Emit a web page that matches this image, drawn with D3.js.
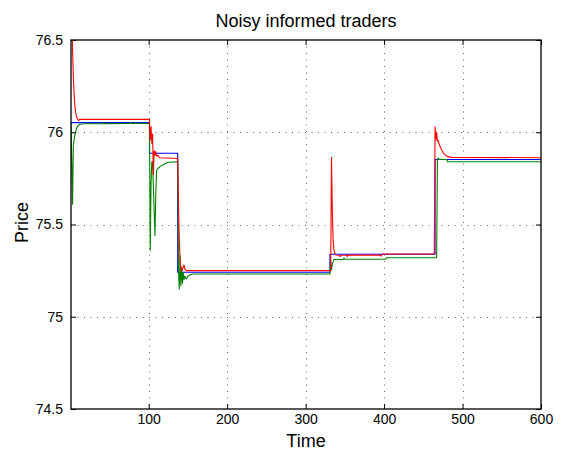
<!DOCTYPE html>
<html>
<head>
<meta charset="utf-8">
<script src="https://cdn.jsdelivr.net/npm/d3@7"></script>
<style>
  html, body { margin: 0; padding: 0; background: #fff; }
  text { font-family: "Liberation Sans", Arial, Helvetica, sans-serif; fill: #000; }
</style>
</head>
<body>
<div id="chart"></div>
<script>
// Price paths of three traders over 600 time steps (knots: time, price)
const blueT = [1, 101, 101, 137, 137, 331, 331, 465, 465, 600];
const blueV = [76.052, 76.052, 75.886, 75.886, 75.241, 75.241, 75.339, 75.339, 75.852, 75.852];

const redT = [1, 2, 3, 4, 5, 6, 7, 8, 9, 10, 11, 12,
  101, 102, 103, 104, 105, 106, 107, 108, 109, 110, 112, 114,
  137, 138, 139, 140, 141, 142, 144, 145, 146, 148,
  332, 333, 334, 335, 336, 337, 339, 343, 344, 345, 352, 353, 354, 395, 396, 398,
  464, 465, 466, 467, 468, 469, 470, 472, 474, 476, 478, 481, 486, 600];
const redV = [77.0, 76.7, 76.45, 76.3, 76.2, 76.14, 76.105, 76.085, 76.074, 76.066, 76.064, 76.07,
  76.07, 75.96, 76.03, 75.94, 75.99, 75.77, 75.9, 75.875, 75.895, 75.87, 75.875, 75.862,
  75.858, 75.6, 75.42, 75.31, 75.26, 75.245, 75.27, 75.28, 75.258, 75.25,
  75.25, 75.864, 75.58, 75.42, 75.365, 75.345, 75.335, 75.333, 75.326, 75.333, 75.333, 75.327, 75.334, 75.334, 75.328, 75.34,
  75.34, 76.03, 75.96, 76.0, 75.95, 75.955, 75.94, 75.915, 75.9, 75.885, 75.877, 75.868, 75.864, 75.862];

const greenT = [1, 3, 4, 5, 6, 7, 8, 9, 11, 14, 19, 20, 21, 42, 43, 44, 76, 77, 78,
  101, 102, 103, 104, 105, 108, 109, 110, 112, 115, 120, 125,
  137, 138, 139, 140, 141, 142, 143, 144, 145, 146, 148, 150, 153, 156,
  331, 332, 333, 334, 336, 348, 349, 350, 402, 403,
  467, 468, 469, 470, 480, 481, 600];
const greenV = [76.05, 75.61, 75.93, 75.96, 75.985, 76.005, 76.02, 76.03, 76.04, 76.045, 76.046, 76.051, 76.046, 76.047, 76.052, 76.047, 76.048, 76.053, 76.048,
  76.048, 75.36, 75.72, 75.84, 75.84, 75.44, 75.65, 75.79, 75.805, 75.815, 75.828, 75.837,
  75.84, 75.25, 75.15, 75.33, 75.17, 75.27, 75.18, 75.24, 75.2, 75.22, 75.205, 75.22, 75.228, 75.232,
  75.232, 75.30, 75.255, 75.285, 75.31, 75.31, 75.318, 75.312, 75.312, 75.32,
  75.32, 75.855, 75.86, 75.852, 75.852, 75.84, 75.84];

const xTicks = [100, 200, 300, 400, 500, 600];
const yTicks = [74.5, 75, 75.5, 76, 76.5];
const xGrid = [100, 200, 300, 400, 500];
const yGrid = [75, 75.5, 76];

const W = 562, H = 455;
const m = { left: 71, right: 21, top: 40, bottom: 46 };
const pw = W - m.left - m.right, ph = H - m.top - m.bottom;

const svg = d3.select("#chart").append("svg")
  .attr("width", W).attr("height", H)
  .style("display", "block");
svg.append("rect").attr("width", W).attr("height", H).attr("fill", "#fff");

const x = d3.scaleLinear().domain([1, 600]).range([m.left, m.left + pw]);
const y = d3.scaleLinear().domain([74.5, 76.5]).range([m.top + ph, m.top]);

// dotted grid
const grid = svg.append("g").attr("stroke", "#555").attr("stroke-width", 0.9)
  .attr("stroke-dasharray", "1,5.5");
grid.selectAll(".gx").data(xGrid).join("line")
  .attr("x1", d => Math.round(x(d)) + 0.5).attr("x2", d => Math.round(x(d)) + 0.5)
  .attr("y1", m.top).attr("y2", m.top + ph);
grid.selectAll(".gy").data(yGrid).join("line")
  .attr("y1", d => Math.round(y(d)) + 0.5).attr("y2", d => Math.round(y(d)) + 0.5)
  .attr("x1", m.left).attr("x2", m.left + pw);

// series
svg.append("clipPath").attr("id", "plotclip").append("rect")
  .attr("x", m.left).attr("y", m.top).attr("width", pw).attr("height", ph);

const line = d3.line().x(d => x(d[0])).y(d => y(d[1]));
const series = [
  { t: blueT, v: blueV, color: "#0000ff" },
  { t: greenT, v: greenV, color: "#008000" },
  { t: redT, v: redV, color: "#ff0000" }
];
const plot = svg.append("g").attr("clip-path", "url(#plotclip)");
series.forEach(s => {
  plot.append("path")
    .datum(s.t.map((t, i) => [t, s.v[i]]))
    .attr("fill", "none")
    .attr("stroke", s.color)
    .attr("stroke-width", 1.1)
    .attr("stroke-linejoin", "round")
    .attr("d", line);
});

// axes: box with inward ticks on all four sides
const tickLen = 5;
const axisBottom = d3.axisBottom(x).tickValues(xTicks).tickSizeInner(-tickLen).tickSizeOuter(0).tickPadding(5).tickFormat(d3.format("d"));
const axisTop = d3.axisTop(x).tickValues(xTicks).tickSizeInner(-tickLen).tickSizeOuter(0).tickFormat("");
const axisLeft = d3.axisLeft(y).tickValues(yTicks).tickSizeInner(-tickLen).tickSizeOuter(0).tickPadding(8).tickFormat(d3.format("~g"));
const axisRight = d3.axisRight(y).tickValues(yTicks).tickSizeInner(-tickLen).tickSizeOuter(0).tickFormat("");

function styleAxis(g) {
  g.select(".domain").remove();
  g.selectAll(".tick line").attr("stroke", "#000").attr("stroke-width", 1);
  g.selectAll(".tick text").style("font-size", "14px").attr("fill", "#000");
}
svg.append("g").attr("transform", `translate(0,${m.top + ph})`).call(axisBottom).call(styleAxis);
svg.append("g").attr("transform", `translate(0,${m.top})`).call(axisTop).call(styleAxis);
svg.append("g").attr("transform", `translate(${m.left},0)`).call(axisLeft).call(styleAxis);
svg.append("g").attr("transform", `translate(${m.left + pw},0)`).call(axisRight).call(styleAxis);

svg.append("rect")
  .attr("x", m.left).attr("y", m.top).attr("width", pw).attr("height", ph)
  .attr("fill", "none").attr("stroke", "#000").attr("stroke-width", 1.3);

// titles
svg.append("text").attr("x", m.left + pw / 2).attr("y", 27)
  .attr("text-anchor", "middle").style("font-size", "18px").text("Noisy informed traders");
svg.append("text").attr("x", m.left + pw / 2).attr("y", 447)
  .attr("text-anchor", "middle").style("font-size", "18px").text("Time");
svg.append("text").attr("transform", `translate(28,${m.top + ph / 2 - 2}) rotate(-90)`)
  .attr("text-anchor", "middle").style("font-size", "18px").text("Price");
</script>
</body>
</html>
